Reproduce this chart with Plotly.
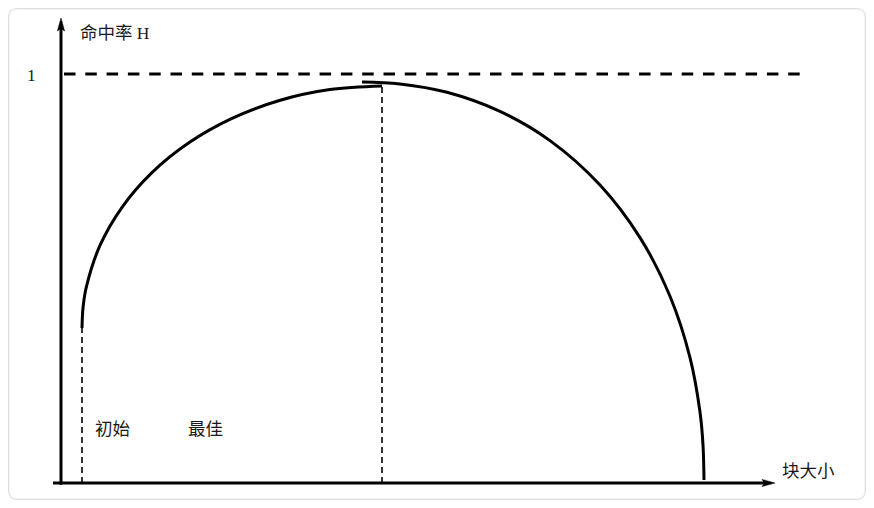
import plotly.graph_objects as go

# ---- data ----
# block size in arbitrary units, hit rate H (1 = top dashed line)
left_x = [0.21, 0.221, 0.256, 0.391, 0.612, 0.912, 1.282, 1.71, 2.184, 2.689, 3.21]
left_y = [0.379, 0.4306, 0.4819, 0.5814, 0.6748, 0.7594, 0.8323, 0.8914, 0.9352, 0.9619, 0.9707]
right_x = [3.01, 3.39, 3.86, 4.39, 4.89, 5.39, 5.79, 6.09, 6.29, 6.39, 6.42, 6.43]
right_y = [0.9804, 0.9758, 0.9553, 0.9086, 0.8372, 0.7286, 0.6, 0.4567, 0.3068, 0.1736, 0.0934, 0.0073]
h_max = 1.0
h_line_x = [0.03, 7.42]
x_tip = 7.14
y_tip = 1.137
labels = ["命中率 H", "1", "初始", "最佳", "块大小"]

W, H = 858, 492   # the page places the figure at (8, 8)
FONT = "Liberation Serif, Noto Sans CJK SC, sans-serif"
TXT = "#1a1a1a"

fig = go.Figure()

# curves
fig.add_trace(go.Scatter(x=left_x, y=left_y, mode="lines",
                         line=dict(color="black", width=3, shape="spline"), hoverinfo="skip"))
fig.add_trace(go.Scatter(x=right_x, y=right_y, mode="lines",
                         line=dict(color="black", width=3, shape="spline"), hoverinfo="skip"))
# H = 1 dashed line
fig.add_trace(go.Scatter(x=h_line_x, y=[h_max, h_max], mode="lines",
                         line=dict(color="black", width=3, dash="11.5px,9.8px"), hoverinfo="skip"))
# drop lines: initial and best block size
fig.add_trace(go.Scatter(x=[left_x[0], left_x[0]], y=[0, left_y[0]], mode="lines",
                         line=dict(color="black", width=1.6, dash="6px,4px"), hoverinfo="skip"))
fig.add_trace(go.Scatter(x=[left_x[-1], left_x[-1]], y=[0, left_y[-1]], mode="lines",
                         line=dict(color="black", width=1.6, dash="6px,4px"), hoverinfo="skip"))


def rrect(x0, y0, x1, y1, r):
    fx = lambda p: p / W
    fy = lambda p: 1 - p / H
    return (f"M{fx(x0+r)},{fy(y0)} L{fx(x1-r)},{fy(y0)} Q{fx(x1)},{fy(y0)} {fx(x1)},{fy(y0+r)} "
            f"L{fx(x1)},{fy(y1-r)} Q{fx(x1)},{fy(y1)} {fx(x1-r)},{fy(y1)} "
            f"L{fx(x0+r)},{fy(y1)} Q{fx(x0)},{fy(y1)} {fx(x0)},{fy(y1-r)} "
            f"L{fx(x0)},{fy(y0+r)} Q{fx(x0)},{fy(y0)} {fx(x0+r)},{fy(y0)} Z")


shapes = []
# card
shapes.append(dict(type="path", xref="paper", yref="paper", layer="below",
                   path=rrect(0.5, 0.5, W - 0.5, H - 0.5, 9), fillcolor="white",
                   line=dict(color="#dcdcdc", width=1)))
shapes.append(dict(type="path", xref="paper", yref="paper", layer="below",
                   path=rrect(1.5, 1.5, W - 1.5, H - 1.5, 8), fillcolor="rgba(0,0,0,0)",
                   line=dict(color="rgba(0,0,0,0.04)", width=1)))
# axes
shapes.append(dict(type="line", xref="x", yref="y", x0=-0.08, x1=x_tip - 0.08, y0=0, y1=0,
                   line=dict(color="black", width=3)))
shapes.append(dict(type="line", xref="x", yref="y", x0=0, x1=0, y0=-0.004, y1=y_tip - 0.02,
                   line=dict(color="black", width=3)))
# arrowheads (pixel-sized, anchored at the axis tips)
shapes.append(dict(type="path", xref="x", yref="y", xsizemode="pixel", ysizemode="pixel",
                   xanchor=x_tip, yanchor=0, path="M0,0 L-13,3.6 L-10.5,0 L-13,-3.6 Z",
                   fillcolor="black", line=dict(color="black", width=0.5)))
shapes.append(dict(type="path", xref="x", yref="y", xsizemode="pixel", ysizemode="pixel",
                   xanchor=0, yanchor=y_tip, path="M0,0 L-3.6,-13 L0,-10.5 L3.6,-13 Z",
                   fillcolor="black", line=dict(color="black", width=0.5)))

ann_pos = [
    dict(x=0.17, y=1.1002, xanchor="left"),
    dict(x=-0.30, y=0.998, xanchor="center"),
    dict(x=0.32, y=0.132, xanchor="left"),
    dict(x=1.247, y=0.132, xanchor="left"),
    dict(x=7.19, y=0.030, xanchor="left"),
]
annotations = []
for txt, p in zip(labels, ann_pos):
    annotations.append(dict(text=txt, xref="x", yref="y", x=p["x"], y=p["y"],
                            xanchor=p["xanchor"], yanchor="middle", showarrow=False,
                            font=dict(family=FONT, size=17.5, color=TXT)))

fig.update_layout(
    width=W, height=H,
    margin=dict(l=0, r=0, t=0, b=0),
    paper_bgcolor="rgba(0,0,0,0)", plot_bgcolor="rgba(0,0,0,0)",
    showlegend=False,
    xaxis=dict(range=[-0.53, 8.05], visible=False, fixedrange=True),
    yaxis=dict(range=[-0.04156, 1.16137], visible=False, fixedrange=True),
    shapes=shapes, annotations=annotations,
    hovermode=False,
)
fig.write_html("out.html", config={"displayModeBar": False})
